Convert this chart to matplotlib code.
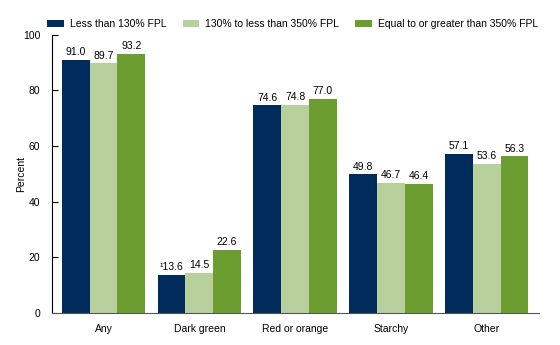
import numpy as np
import matplotlib
matplotlib.use("Agg")
import matplotlib.pyplot as plt

plt.rcParams["font.family"] = ["Liberation Sans", "DejaVu Sans"]

categories = ["Any", "Dark green", "Red or orange", "Starchy", "Other"]
series_names = ["Less than 130% FPL", "130% to less than 350% FPL",
                "Equal to or greater than 350% FPL"]
low = [91.0, 13.6, 74.6, 49.8, 57.1]
mid = [89.7, 14.5, 74.8, 46.7, 53.6]
high = [93.2, 22.6, 77.0, 46.4, 56.3]
low_labels = ["91.0", "\u00b913.6", "74.6", "49.8", "57.1"]

colors = ["#002c5d", "#b8d19c", "#6c9d31"]

fig = plt.figure(figsize=(5.6, 3.45), dpi=100)
ax = fig.add_axes([0.092, 0.093, 0.8705, 0.806])

x = np.arange(len(categories))
w = 0.29
all_series = [low, mid, high]
for i, (vals, name, c) in enumerate(zip(all_series, series_names, colors)):
    bars = ax.bar(x + (i - 1) * w, vals, w, color=c, label=name, zorder=2)
    labels = low_labels if i == 0 else [f"{v:.1f}" for v in vals]
    for b, lab in zip(bars, labels):
        ax.text(b.get_x() + b.get_width() / 2, b.get_height() + 1, lab,
                ha="center", va="bottom", fontsize=7.5)

ax.set_xlim(-0.543, 4.546)
ax.set_ylim(0, 100)
ax.set_yticks([0, 20, 40, 60, 80, 100])
ax.set_xticks(x)
ax.set_xticklabels(categories)
ax.tick_params(axis="y", direction="in", length=4, labelsize=7.5, pad=8)
ax.tick_params(axis="x", length=0, labelsize=7.5, pad=8)
ax.spines["top"].set_visible(False)
ax.spines["right"].set_visible(False)
ax.spines["bottom"].set_color("#555555")
ax.set_ylabel("Percent", fontsize=7.5, labelpad=-2.5)

ax.legend(loc="lower left", bbox_to_anchor=(-0.02, 1.0), ncol=3, frameon=False,
          fontsize=7.5, handlelength=1.6, handleheight=0.6, handletextpad=0.6,
          columnspacing=1.5, borderaxespad=0.15)

fig.savefig("out.png", dpi=100)
